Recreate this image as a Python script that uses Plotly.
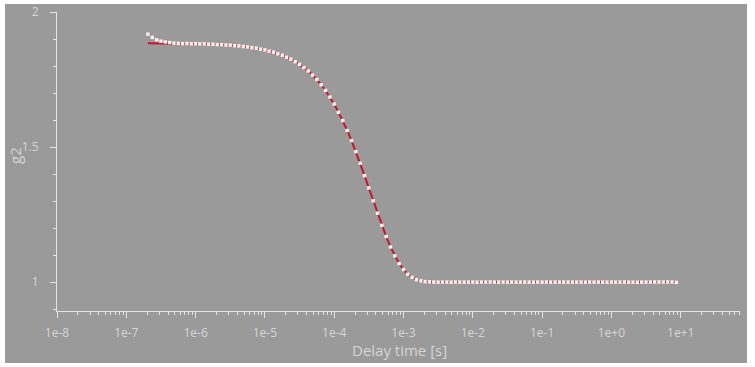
import plotly.graph_objects as go

# Delay times [s]
delay_time = [
    2.05e-7, 2.37e-7, 2.74e-7, 3.16e-7, 3.65e-7, 4.22e-7, 4.87e-7, 5.62e-7, 6.49e-7, 7.50e-7, 8.66e-7,
    1.00e-6, 1.15e-6, 1.33e-6, 1.54e-6, 1.78e-6, 2.05e-6, 2.37e-6, 2.74e-6, 3.16e-6, 3.65e-6, 4.22e-6, 4.87e-6, 5.62e-6, 6.49e-6, 7.50e-6, 8.66e-6,
    1.00e-5, 1.15e-5, 1.33e-5, 1.54e-5, 1.78e-5, 2.05e-5, 2.37e-5, 2.74e-5, 3.16e-5, 3.65e-5, 4.22e-5, 4.87e-5, 5.62e-5, 6.49e-5, 7.50e-5, 8.66e-5,
    1.00e-4, 1.15e-4, 1.33e-4, 1.54e-4, 1.78e-4, 2.05e-4, 2.37e-4, 2.74e-4, 3.16e-4, 3.65e-4, 4.22e-4, 4.87e-4, 5.62e-4, 6.49e-4, 7.50e-4, 8.66e-4,
    1.00e-3, 1.15e-3, 1.33e-3, 1.54e-3, 1.78e-3, 2.05e-3, 2.37e-3, 2.74e-3, 3.16e-3, 3.65e-3, 4.22e-3, 4.87e-3, 5.62e-3, 6.49e-3, 7.50e-3, 8.66e-3,
    1.00e-2, 1.15e-2, 1.33e-2, 1.54e-2, 1.78e-2, 2.05e-2, 2.37e-2, 2.74e-2, 3.16e-2, 3.65e-2, 4.22e-2, 4.87e-2, 5.62e-2, 6.49e-2, 7.50e-2, 8.66e-2,
    1.00e-1, 1.15e-1, 1.33e-1, 1.54e-1, 1.78e-1, 2.05e-1, 2.37e-1, 2.74e-1, 3.16e-1, 3.65e-1, 4.22e-1, 4.87e-1, 5.62e-1, 6.49e-1, 7.50e-1, 8.66e-1,
    1.00e+0, 1.15e+0, 1.33e+0, 1.54e+0, 1.78e+0, 2.05e+0, 2.37e+0, 2.74e+0, 3.16e+0, 3.65e+0, 4.22e+0, 4.87e+0, 5.62e+0, 6.49e+0, 7.50e+0, 8.66e+0,
]

# Measured g2 (white dots)
g2_data = [
    1.9180, 1.9060, 1.8970, 1.8920, 1.8890, 1.8870, 1.8845, 1.8840, 1.8830, 1.8836, 1.8824,
    1.8826, 1.8818, 1.8819, 1.8808, 1.8806, 1.8792, 1.8791, 1.8776, 1.8771, 1.8752, 1.8744, 1.8720, 1.8708, 1.8679, 1.8659, 1.8624,
    1.8597, 1.8550, 1.8512, 1.8453, 1.8400, 1.8327, 1.8255, 1.8160, 1.8066, 1.7943, 1.7817, 1.7662, 1.7502, 1.7304, 1.7097, 1.6851,
    1.6593, 1.6290, 1.5981, 1.5614, 1.5239, 1.4830, 1.4402, 1.3939, 1.3488, 1.3010, 1.2553, 1.2100, 1.1690, 1.1300, 1.0972, 1.0684,
    1.0466, 1.0290, 1.0178, 1.0091, 1.0048, 1.0018, 1.0011, 1.0001, 0.9998, 1.0002, 1.0000, 0.9997, 1.0003, 1.0001, 0.9999, 1.0000,
    1.0002, 0.9998, 1.0001, 1.0000, 1.0003, 0.9999, 1.0000, 1.0002, 0.9998, 1.0001, 1.0000, 0.9999, 1.0002, 1.0000, 0.9998, 1.0001,
    1.0000, 1.0002, 0.9999, 1.0001, 0.9998, 1.0000, 1.0002, 0.9999, 1.0001, 1.0000, 0.9998, 1.0002, 0.9999, 1.0001, 1.0000, 0.9999,
    1.0001, 0.9998, 1.0000, 1.0002, 0.9999, 0.9996, 0.9994, 0.9998, 1.0001, 0.9999, 1.0003, 1.0004, 1.0002, 1.0006, 1.0003, 0.9990,
]

# Fitted g2 (red line)
g2_fit = [
    1.8845, 1.8844, 1.8843, 1.8842, 1.8840, 1.8839, 1.8837, 1.8835, 1.8833, 1.8830, 1.8827,
    1.8824, 1.8820, 1.8815, 1.8810, 1.8804, 1.8796, 1.8788, 1.8779, 1.8768, 1.8755, 1.8741, 1.8724, 1.8705, 1.8682, 1.8656, 1.8627,
    1.8593, 1.8554, 1.8509, 1.8457, 1.8397, 1.8331, 1.8252, 1.8163, 1.8062, 1.7947, 1.7814, 1.7666, 1.7498, 1.7308, 1.7093, 1.6855,
    1.6589, 1.6295, 1.5977, 1.5619, 1.5235, 1.4834, 1.4398, 1.3944, 1.3484, 1.3015, 1.2549, 1.2104, 1.1686, 1.1304, 1.0969, 1.0688,
    1.0463, 1.0293, 1.0175, 1.0094, 1.0046, 1.0021, 1.0008, 1.0003, 1.0001, 1.0000, 1.0000, 1.0000, 1.0000, 1.0000, 1.0000, 1.0000,
    1.0000, 1.0000, 1.0000, 1.0000, 1.0000, 1.0000, 1.0000, 1.0000, 1.0000, 1.0000, 1.0000, 1.0000, 1.0000, 1.0000, 1.0000, 1.0000,
    1.0000, 1.0000, 1.0000, 1.0000, 1.0000, 1.0000, 1.0000, 1.0000, 1.0000, 1.0000, 1.0000, 1.0000, 1.0000, 1.0000, 1.0000, 1.0000,
    1.0000, 1.0000, 1.0000, 1.0000, 1.0000, 1.0000, 1.0000, 1.0000, 1.0000, 1.0000, 1.0000, 1.0000, 1.0000, 1.0000, 1.0000, 1.0000,
]

x_tick_vals = [1e-8, 1e-7, 1e-6, 1e-5, 1e-4, 1e-3, 1e-2, 1e-1, 1e0, 1e1]
x_tick_text = ["1e-8", "1e-7", "1e-6", "1e-5", "1e-4", "1e-3", "1e-2", "1e-1", "1e+0", "1e+1"]
y_tick_vals = [1, 1.5, 2]
y_tick_text = ["1", "1.5", "2"]
x_title = "Delay time [s]"
y_title = "g2"

BG = "#9a9a9a"
AXIS = "#e4e4e4"
TXT = "#d6d6d6"
FONT = "Open Sans, Noto Sans, DejaVu Sans, sans-serif"

x_minor = [m * d for d in x_tick_vals for m in range(2, 10)]

fig = go.Figure()
fig.add_trace(go.Scatter(x=delay_time, y=g2_fit, mode="lines",
                         line=dict(color="#c8142c", width=2), showlegend=False))
fig.add_trace(go.Scatter(x=delay_time, y=g2_data, mode="markers",
                         marker=dict(symbol="square", size=3.4, color="#f8f2f2", line=dict(width=0)),
                         showlegend=False))

W, H = 755, 367
L, R, T, B = 57, 15, 12, 56
pw, ph = W - L - R, H - T - B

def px_to_paper_x(px):
    return (px - L) / pw

def px_to_paper_y(py):
    return (H - B - py) / ph

fig.add_shape(type="rect", xref="paper", yref="paper",
              x0=px_to_paper_x(5), x1=px_to_paper_x(747),
              y0=px_to_paper_y(363), y1=px_to_paper_y(4),
              fillcolor=BG, line=dict(width=0), layer="below")

# Axis titles placed as annotations for exact positioning
fig.add_annotation(text=x_title, xref="paper", yref="paper",
                   x=px_to_paper_x(399), y=px_to_paper_y(350),
                   xanchor="center", yanchor="middle", showarrow=False,
                   font=dict(family=FONT, size=15, color=TXT))
fig.add_annotation(text=y_title, xref="paper", yref="paper",
                   x=px_to_paper_x(15), y=px_to_paper_y(156),
                   xanchor="center", yanchor="middle", showarrow=False,
                   textangle=-90,
                   font=dict(family=FONT, size=15, color=TXT))

fig.update_layout(
    width=W, height=H,
    margin=dict(l=L, r=R, t=T, b=B, pad=0),
    paper_bgcolor="white",
    plot_bgcolor="rgba(0,0,0,0)",
    font=dict(family=FONT, size=12, color=TXT),
    xaxis=dict(
        type="log", range=[-8, 1.856], automargin=False,
        tickvals=x_tick_vals, ticktext=x_tick_text,
        ticks="outside", ticklen=6, tickcolor=AXIS, tickwidth=1,
        ticklabelstandoff=5,
        minor=dict(tickvals=x_minor, ticks="outside", ticklen=3, tickcolor=AXIS, showgrid=False),
        showline=True, linecolor=AXIS, linewidth=1,
        showgrid=False, zeroline=False,
        tickfont=dict(size=12, color=TXT),
    ),
    yaxis=dict(
        range=[0.893, 2.0], automargin=False,
        tickvals=y_tick_vals, ticktext=y_tick_text,
        ticks="outside", ticklen=6, tickcolor=AXIS, tickwidth=1,
        ticklabelstandoff=9,
        minor=dict(dtick=0.1, tick0=0, ticks="outside", ticklen=3, tickcolor=AXIS, showgrid=False),
        showline=True, linecolor=AXIS, linewidth=1,
        showgrid=False, zeroline=False,
        tickfont=dict(size=12, color=TXT),
    ),
)

fig.write_html("out.html")
